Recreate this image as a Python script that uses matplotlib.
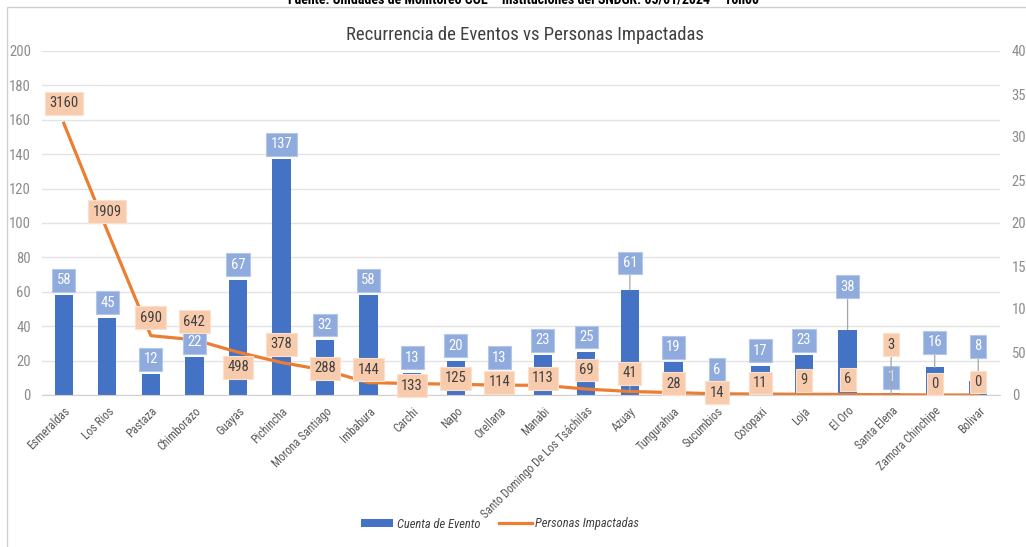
import matplotlib
matplotlib.use('Agg')
import matplotlib.pyplot as plt
from matplotlib import font_manager
from matplotlib.patches import Patch, Rectangle
from matplotlib.lines import Line2D
import numpy as np

# datos
provincias = ['Esmeraldas', 'Los Rios', 'Pastaza', 'Chimborazo', 'Guayas', 'Pichincha',
              'Morona Santiago', 'Imbabura', 'Carchi', 'Napo', 'Orellana', 'Manabi',
              'Santo Domingo De Los Tsáchilas', 'Azuay', 'Tungurahua', 'Sucumbios',
              'Cotopaxi', 'Loja', 'El Oro', 'Santa Elena', 'Zamora Chinchipe', 'Bolivar']
eventos = [58, 45, 12, 22, 67, 137, 32, 58, 13, 20, 13, 23, 25, 61, 19, 6, 17, 23, 38, 1, 16, 8]
personas = [3160, 1909, 690, 642, 498, 378, 288, 144, 133, 125, 114, 113, 69, 41, 28, 14,
            11, 9, 6, 3, 0, 0]

# desplazamiento de etiquetas (pixeles, hacia arriba)
off_bar = [15, 15, 15, 15, 15, 15, 15, 15, 15, 15, 15, 15, 15, 27, 15, 15, 15, 15, 43, 16, 25, 35]
off_lin = [20, 19, 18, 18, -15, 18, 2, 13, -2, 6, 3, 7, 19, 18, 9, 1, 11, 14, 15, 50, 11, 13]
lead_bar = {13, 18, 20, 21}
lead_lin = {13, 19}

# buscar una fuente estrecha
fuente, estira = 'DejaVu Sans', 'normal'
lista = font_manager.fontManager.ttflist
for pref in ['Liberation Sans Narrow', 'Roboto Condensed', 'Open Sans Condensed',
             'Noto Sans Condensed', 'DejaVu Sans Condensed']:
    if any(f.name == pref for f in lista):
        fuente = pref
        break
else:
    for fam in ['Roboto', 'Noto Sans', 'Open Sans', 'DejaVu Sans', 'Liberation Sans']:
        c = [f for f in lista if f.name == fam and str(f.stretch) in
             ('condensed', 'semi-condensed', 'extra-condensed', '75', '87.5', '62.5')]
        if c:
            fuente, estira = fam, 'condensed'
            break
plt.rcParams['font.family'] = [fuente, 'DejaVu Sans']
plt.rcParams['font.stretch'] = estira

azul = '#4472c4'
naranja = '#ed7d31'

W, H = 1026, 547
fig = plt.figure(figsize=(W / 100, H / 100), dpi=100)
fig.patches.append(Rectangle((7 / W, -0.1), 1.2, 1 - 7 / H + 0.1, transform=fig.transFigure,
                             fill=False, edgecolor='#d0d0d0', lw=1.0))

ax = fig.add_axes([42 / W, 1 - 395 / H, 958 / W, 344 / H])
ax2 = ax.twinx()

x = np.arange(len(provincias))
ax.bar(x, eventos, width=0.42, color=azul, zorder=2)
ax2.plot(x, personas, color=naranja, lw=2.3, zorder=3)

ax.set_xlim(-0.5, len(provincias) - 0.5)
ax.set_ylim(0, 200)
ax2.set_ylim(0, 4000)
ax.set_yticks(np.arange(0, 201, 20))
ax2.set_yticks(np.arange(0, 4001, 500))
ax.yaxis.grid(True, color='#e3e3e3', lw=1.0)
ax.set_axisbelow(True)
for a in (ax, ax2):
    for s in a.spines.values():
        s.set_visible(False)
ax.spines['bottom'].set_visible(True)
ax.spines['bottom'].set_color('#d0d0d0')
ax.tick_params(axis='y', length=0, pad=8, labelsize=10.5, labelcolor='#8c8c8c')
ax2.tick_params(axis='y', length=0, pad=8.5, labelsize=10.5, labelcolor='#8c8c8c')
ax.set_xticks(x)
ax.set_xticklabels(provincias, rotation=45, ha='right', rotation_mode='anchor',
                   fontsize=8.5, color='#595959')
ax.tick_params(axis='x', length=0, pad=7)

# etiquetas de barras
for i, v in enumerate(eventos):
    ap = None
    if i in lead_bar:
        ap = dict(arrowstyle='-', color='#a6a6a6', lw=0.9, shrinkA=0, shrinkB=0)
    ax2.annotate(str(v), xy=(i, v), xycoords=ax.transData,
                 xytext=(0, off_bar[i]), textcoords='offset pixels',
                 ha='center', va='center', fontsize=10.5, color='white', zorder=5,
                 bbox=dict(boxstyle='square,pad=0.3', fc='#8faadc', ec='#b4c7e7', lw=0.8),
                 arrowprops=ap)

# etiquetas de linea
for i, v in enumerate(personas):
    ap = None
    if i in lead_lin:
        ap = dict(arrowstyle='-', color='#a6a6a6', lw=0.9, shrinkA=0, shrinkB=0)
    ax2.annotate(str(v), xy=(i, v), xytext=(0, off_lin[i]), textcoords='offset pixels',
                 ha='center', va='center', fontsize=10.5, color='#404040', zorder=6,
                 bbox=dict(boxstyle='square,pad=0.3', fc='#f8cbad', ec='#fbe0cd', lw=0.8),
                 arrowprops=ap)

fig.text(0.512, 1 - 35 / H, 'Recurrencia de Eventos vs Personas Impactadas', ha='center',
         va='center', fontsize=13.5, color='#404040')
fig.text(524 / W, 1 - 4 / H, 'Fuente: Unidades de Monitoreo COE – Instituciones del SNDGR. 05/01/2024 – 16h00',
         ha='center', va='baseline', fontsize=10, fontweight='bold', color='black')

handles = [Patch(facecolor=azul, label='Cuenta de Evento'),
           Line2D([0], [0], color=naranja, lw=2.3, label='Personas Impactadas')]
fig.legend(handles=handles, loc='center', bbox_to_anchor=(500 / W, 1 - 524 / H), ncol=2,
           frameon=False, prop={'style': 'italic', 'size': 9}, labelcolor='#404040',
           handlelength=2.6, handleheight=0.6, columnspacing=1.5, handletextpad=0.3)

fig.savefig('out.png', dpi=100)
